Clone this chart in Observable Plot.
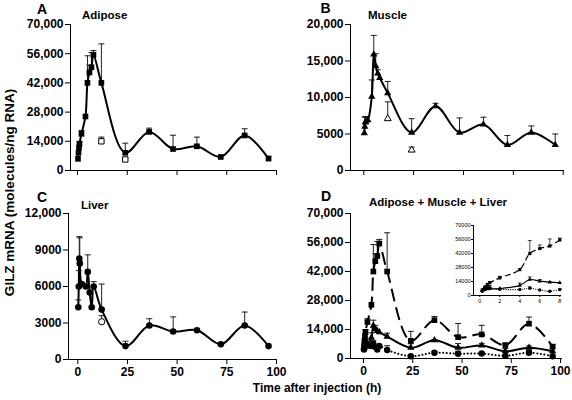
<!DOCTYPE html>
<html><head><meta charset="utf-8">
<script src="https://cdn.jsdelivr.net/npm/d3@7"></script>
<script src="https://cdn.jsdelivr.net/npm/@observablehq/plot@0.6"></script>
<style>
html,body{margin:0;padding:0;background:#fff;}
#chart{position:relative;width:572px;height:400px;overflow:hidden;background:#fff;}
#chart svg{position:absolute;left:0;top:0;}
</style></head><body><div id="chart"></div>
<script>
// ---- data ----
const times = [0.25, 0.5, 0.75, 1, 2, 4, 5, 6, 7, 8, 12, 24, 36, 48, 60, 72, 84, 96];
const adiposeMean  = [5600, 8500, 11000, 12800, 17600, 25900, 42000, 47000, 49500, 55500, 42000, 8500, 18500, 10300, 11600, 6500, 16800, 5700];
const adiposeUpper = [null, null, null, 14000, 19200, null, 55000, 50500, 56500, 57500, 60700, 13100, 20300, 16900, 16000, 7200, 20000, 6800];
const muscleMean   = [5100, 6000, 6600, 6700, 6900, 10100, 15900, 14300, 13300, 12700, 10600, 5200, 8800, 5200, 6300, 3500, 5200, 3500];
const muscleUpper  = [null, 7300, 7400, 7300, null, 12400, 18500, 16000, 13800, null, 12200, 7100, 9200, 7200, 7300, 4800, 6100, 5000];
const liverMean    = [4300, 6000, 8300, 7900, 6200, 6000, 7200, 5500, 4300, 6000, 4100, 1100, 2800, 2300, 2400, 1250, 2800, 1100];
const liverUpper   = [4900, 7300, 10100, 10000, null, null, 8600, null, null, 6400, 6200, 1500, 3350, 3500, null, null, 3900, null];

const adiposeOpenTimes = [12, 24];
const adiposeOpenMean  = [14000, 5300];
const adiposeOpenUpper = [16000, 6200];
const muscleOpenTimes  = [12, 24];
const muscleOpenMean   = [7100, 2800];
const muscleOpenUpper  = [9400, 3200];
const liverOpenTimes   = [12];
const liverOpenMean    = [3100];
const liverOpenUpper   = [3600];

const xTicks = [0, 25, 50, 75, 100];
const insetXTicks = [0, 2, 4, 6, 8];
const adiposeYTicks = [0, 14000, 28000, 42000, 56000, 70000];
const muscleYTicks  = [0, 5000, 10000, 15000, 20000];
const liverYTicks   = [0, 3000, 6000, 9000, 12000];

// ---- helpers ----
const rows = (t, m, u) => t.map((d, i) => ({t: d, v: m[i], u: u[i]}));
const adipose = rows(times, adiposeMean, adiposeUpper);
const muscle  = rows(times, muscleMean, muscleUpper);
const liver   = rows(times, liverMean, liverUpper);
const adiposeOpen = rows(adiposeOpenTimes, adiposeOpenMean, adiposeOpenUpper);
const muscleOpen  = rows(muscleOpenTimes, muscleOpenMean, muscleOpenUpper);
const liverOpen   = rows(liverOpenTimes, liverOpenMean, liverOpenUpper);

const excelFmt = d => d >= 10000 ? d3.format(",")(d) : String(d);
const capSymbol = {draw(ctx, size) { const w = Math.sqrt(size / Math.PI); ctx.moveTo(-w, 0); ctx.lineTo(w, 0); }};
const FONT = "'Liberation Sans', Arial, sans-serif";

function seriesMarks(data, {symbol, r, dash, cap = "butt", sw = 2, errW = 1, capR = 3, curve = "catmull-rom", open = null}) {
  const withErr = data.filter(d => d.u != null);
  const marks = [
    Plot.ruleX(withErr, {x: "t", y1: "v", y2: "u", stroke: "#222", strokeWidth: errW}),
    Plot.dot(withErr, {x: "t", y: "u", symbol: capSymbol, r: capR, fill: "none", stroke: "#222", strokeWidth: errW}),
    Plot.line(data, {x: "t", y: "v", curve, stroke: "black", strokeWidth: sw, strokeDasharray: dash, strokeLinecap: cap}),
    Plot.dot(data, {x: "t", y: "v", symbol, r, fill: "black", stroke: "none"})
  ];
  if (open) {
    marks.push(
      Plot.ruleX(open, {x: "t", y1: "v", y2: "u", stroke: "#222", strokeWidth: errW}),
      Plot.dot(open, {x: "t", y: "u", symbol: capSymbol, r: capR, fill: "none", stroke: "#222", strokeWidth: errW}),
      Plot.dot(open, {x: "t", y: "v", symbol, r: r * 0.95, fill: "white", stroke: "black", strokeWidth: 1})
    );
  }
  return marks;
}

function panel({left, right, top, bottom, xDomain, yDomain, yTicks, xTickValues, showXLabels, marks, fontSize = "12px", fontWeight = "bold", tickSize = 5, tickPadding = 2, yFmt = excelFmt}) {
  return Plot.plot({
    width: 572, height: 400,
    marginLeft: left, marginRight: right, marginTop: top, marginBottom: bottom,
    style: {background: "transparent", fontFamily: FONT, fontSize, fontWeight, overflow: "visible"},
    x: {domain: xDomain},
    y: {domain: yDomain},
    marks: [
      Plot.axisY(yTicks, {tickSize, tickPadding, tickFormat: yFmt, label: null, strokeWidth: 1}),
      Plot.axisX(xTickValues, {tickSize, tickPadding: showXLabels ? tickPadding + 1 : 0, tickFormat: showXLabels ? (d => String(d)) : (() => ""), label: null, strokeWidth: 1}),
      Plot.ruleX([xDomain[0]], {stroke: "black", strokeWidth: 1}),
      Plot.ruleY([yDomain[0]], {stroke: "black", strokeWidth: 1}),
      ...marks
    ]
  });
}

const chart = document.getElementById("chart");

// Panel A: Adipose
chart.append(panel({
  left: 70, right: 295, top: 24, bottom: 230,
  xDomain: [-3.52, 100.5], yDomain: [0, 70000], yTicks: adiposeYTicks,
  xTickValues: xTicks, showXLabels: false,
  marks: seriesMarks(adipose, {symbol: "square", r: 3.2, open: adiposeOpen})
}));

// Panel B: Muscle
chart.append(panel({
  left: 350, right: 8, top: 24, bottom: 230,
  xDomain: [-6.67, 100.65], yDomain: [0, 20000], yTicks: muscleYTicks,
  xTickValues: xTicks, showXLabels: false,
  marks: seriesMarks(muscle, {symbol: "triangle", r: 2.7, open: muscleOpen})
}));

// Panel C: Liver
chart.append(panel({
  left: 68, right: 295, top: 213, bottom: 41,
  xDomain: [-4.68, 100.5], yDomain: [0, 12000], yTicks: liverYTicks,
  xTickValues: xTicks, showXLabels: true,
  marks: seriesMarks(liver, {symbol: "circle", r: 3.3, open: liverOpen})
}));

// Panel D: all three
chart.append(panel({
  left: 350, right: 10, top: 213, bottom: 42,
  xDomain: [-6.6, 101], yDomain: [0, 70000], yTicks: adiposeYTicks,
  xTickValues: xTicks, showXLabels: true,
  marks: [
    ...seriesMarks(liver, {symbol: "circle", r: 3.2, dash: "0.1,3.4", cap: "round"}),
    ...seriesMarks(muscle, {symbol: "triangle", r: 2.7}),
    ...seriesMarks(adipose, {symbol: "square", r: 3.2, dash: "13,6"})
  ]
}));

// Inset in D: first 8 hours
const early = arr => arr.filter(d => d.t <= 8);
chart.append(panel({
  left: 473, right: 11, top: 225, bottom: 105,
  xDomain: [-0.63, 8.17], yDomain: [0, 70000], yTicks: adiposeYTicks,
  xTickValues: insetXTicks, showXLabels: true,
  fontSize: "5.5px", fontWeight: "normal", tickSize: 2, tickPadding: 1,
  yFmt: d => String(d),
  marks: [
    ...seriesMarks(early(liver), {symbol: "circle", r: 1.7, dash: "0.1,2.2", cap: "round", sw: 1.2, errW: 0.8, capR: 2}),
    ...seriesMarks(early(muscle), {symbol: "triangle", r: 1.6, sw: 1.2, errW: 0.8, capR: 2}),
    ...seriesMarks(early(adipose), {symbol: "square", r: 1.8, dash: "6,3", sw: 1.2, errW: 0.8, capR: 2})
  ]
}));

// ---- text labels ----
const svg = d3.create("svg").attr("width", 572).attr("height", 400)
  .style("font-family", FONT).style("font-weight", "bold");
const labels = [
  {s: "A", x: 37, y: 13.5, f: 14},
  {s: "Adipose", x: 82, y: 19, f: 11.5},
  {s: "B", x: 320.5, y: 13, f: 14},
  {s: "Muscle", x: 368, y: 18.5, f: 11.5},
  {s: "C", x: 37, y: 201.5, f: 14},
  {s: "Liver", x: 81, y: 209, f: 11.5},
  {s: "D", x: 321, y: 201, f: 14},
  {s: "Adipose + Muscle + Liver", x: 369, y: 206, f: 11.5}
];
for (const l of labels) svg.append("text").attr("x", l.x).attr("y", l.y).attr("font-size", l.f).text(l.s);
svg.append("text").attr("x", 317).attr("y", 392).attr("font-size", 12).attr("text-anchor", "middle").text("Time after injection (h)");
svg.append("text").attr("transform", "translate(13.5,192.5) rotate(-90)").attr("font-size", 13.5).attr("text-anchor", "middle").text("GILZ mRNA (molecules/ng RNA)");
chart.append(svg.node());
</script>
</body></html>
